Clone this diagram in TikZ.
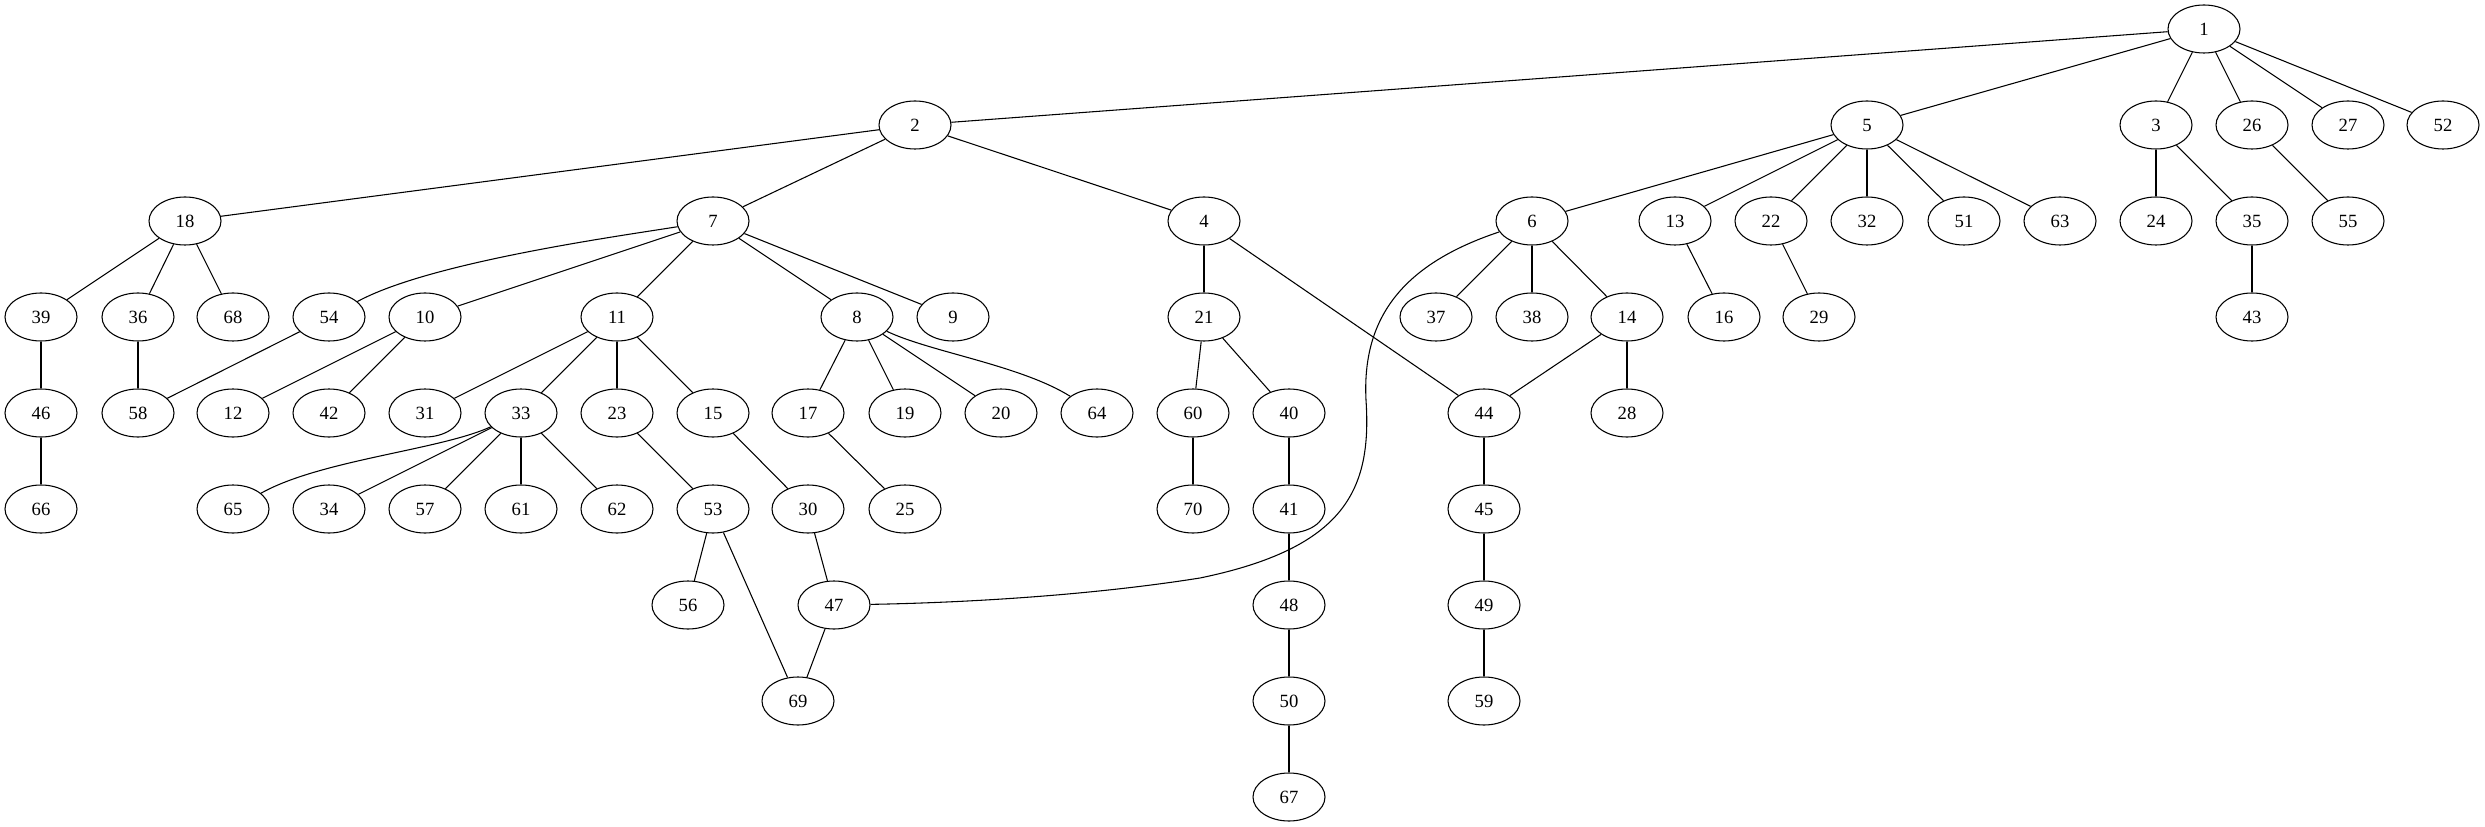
\documentclass[tikz,border=0pt]{standalone}
\usepackage{fontspec}
\setmainfont{Liberation Serif}
\usetikzlibrary{shapes.geometric}
\begin{document}
\begin{tikzpicture}[x=0.75pt,y=-0.75pt,
  gv/.style={draw,ellipse,line width=0.8pt,minimum width=54pt,minimum height=36pt,inner sep=0pt,font=\fontsize{14}{16}\selectfont},
  every path/.style={line width=0.8pt}]
\useasboundingbox[fill=white] (0,0) rectangle (2485,827);
% rank 0
\node[gv] (n1) at (2204,29) {1};
% rank 1
\foreach \n/\x in {2/915,5/1867,3/2156,26/2252,27/2348,52/2443}
  \node[gv] (n\n) at (\x,125) {\n};
% rank 2
\foreach \n/\x in {18/185,7/713,4/1204,6/1532,13/1675,22/1771,32/1867,51/1964,63/2060,24/2156,35/2252,55/2348}
  \node[gv] (n\n) at (\x,221) {\n};
% rank 3
\foreach \n/\x in {39/41,36/138,68/233,54/329,10/425,11/617,8/857,9/953,21/1204,37/1436,38/1532,14/1627,16/1724,29/1819,43/2252}
  \node[gv] (n\n) at (\x,317) {\n};
% rank 4
\foreach \n/\x in {46/41,58/138,12/233,42/329,31/425,33/521,23/617,15/713,17/808,19/905,20/1001,64/1097,60/1193,40/1289,44/1484,28/1627}
  \node[gv] (n\n) at (\x,413) {\n};
% rank 5
\foreach \n/\x in {66/41,65/233,34/329,57/425,61/521,62/617,53/713,30/808,25/905,70/1193,41/1289,45/1484}
  \node[gv] (n\n) at (\x,509) {\n};
% rank 6
\foreach \n/\x in {56/688,47/834,48/1289,49/1484}
  \node[gv] (n\n) at (\x,605) {\n};
% rank 7
\foreach \n/\x in {69/798,50/1289,59/1484}
  \node[gv] (n\n) at (\x,701) {\n};
% rank 8
\node[gv] (n67) at (1289,797) {67};
% straight edges
\foreach \a/\b in {1/2,1/5,1/3,1/26,1/27,1/52,
  2/18,2/7,2/4,
  5/6,5/13,5/22,5/32,5/51,5/63,
  3/24,3/35,26/55,
  18/39,18/36,18/68,
  7/10,7/11,7/8,7/9,
  4/21,4/44,
  6/37,6/38,6/14,
  13/16,22/29,35/43,
  39/46,36/58,54/58,10/12,10/42,
  11/31,11/33,11/23,11/15,
  8/17,8/19,8/20,
  21/60,21/40,14/44,14/28,
  46/66,33/34,33/57,33/61,33/62,
  23/53,15/30,17/25,60/70,40/41,44/45,
  53/56,53/69,30/47,41/48,45/49,
  47/69,48/50,49/59,50/67}
  \draw (n\a) -- (n\b);
% curved edges
\draw (n7) .. controls (620,236) and (430,262) .. (n54);
\draw (n8) .. controls (930,352) and (1020,365) .. (n64);
\draw (n33) .. controls (440,450) and (320,460) .. (n65);
\draw (n6) .. controls (1400,265) and (1362,320) .. (1366,400)
  .. controls (1372,490) and (1345,548) .. (1200,578)
  .. controls (1080,597) and (950,603) .. (n47);
\end{tikzpicture}
\end{document}
